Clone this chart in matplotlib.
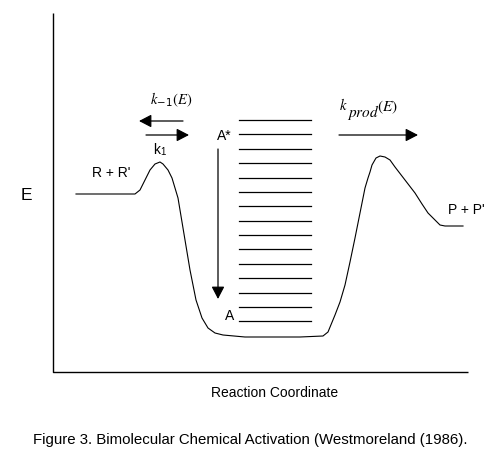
import matplotlib
matplotlib.use("Agg")
import matplotlib.pyplot as plt
from matplotlib.patches import FancyArrowPatch

# ---- data (pixel-space coordinates of the schematic) ----
curve_x = [76, 135, 140, 145, 150, 155, 160, 163, 168, 172, 178, 185, 190, 196, 202, 208, 215, 223,
           245, 300, 323, 328, 335, 340, 345, 350, 355, 360, 365, 368, 370, 372, 376, 380, 385, 390,
           395, 405, 415, 422, 428, 435, 440, 445, 463]
curve_y = [194, 194, 190, 180, 170, 164, 162, 164, 170, 178, 198, 240, 270, 300, 318, 328, 333, 335,
           337, 337, 336, 332, 315, 302, 285, 262, 238, 213, 188, 178, 172, 165, 158, 156, 157, 160,
           167, 180, 193, 204, 213, 220, 225, 226, 226]
level_y = [120, 134, 149, 163, 178, 192, 206, 221, 235, 249, 264, 278, 293, 307, 321]
level_x = [239, 311]
axis_x = [53, 53, 468]
axis_y = [13, 372, 372]

labels = ["R + R'", "P + P'", "A*", "A", "E",
          "Reaction Coordinate",
          "Figure 3. Bimolecular Chemical Activation (Westmoreland (1986)."]

W, H = 497, 463
fig = plt.figure(figsize=(W / 100, H / 100), dpi=100)
ax = fig.add_axes([0, 0, 1, 1])
ax.set_xlim(0, W)
ax.set_ylim(H, 0)
ax.axis("off")

plt.rcParams["mathtext.fontset"] = "stix"
sans = "Liberation Sans"

# axes
ax.plot(axis_x, axis_y, color="black", lw=1.0, solid_capstyle="butt")

# energy curve
ax.plot(curve_x, curve_y, color="black", lw=0.8)

# vibrational levels
for y in level_y:
    ax.plot(level_x, [y, y], color="black", lw=0.9)

def arrow(x0, y0, x1, y1):
    ax.add_patch(FancyArrowPatch((x0, y0), (x1, y1), arrowstyle="-|>,head_length=5,head_width=2.6",
                                 mutation_scale=1.5, color="black", lw=0.9, shrinkA=0, shrinkB=0))

arrow(183, 121, 139, 121)   # k-1
arrow(146, 135, 189, 135)   # k1
arrow(339, 135, 418, 135)   # kprod
arrow(218, 149, 218, 299)   # A* -> A

fs = 10
ax.text(111, 173, labels[0], fontsize=fs, family=sans, ha="center", va="center")
ax.text(466, 210, labels[1], fontsize=fs, family=sans, ha="center", va="center")
ax.text(224, 136, labels[2], fontsize=fs, family=sans, ha="center", va="center")
ax.text(230, 316, labels[3], fontsize=fs, family=sans, ha="center", va="center")
ax.text(160, 150, "k$_\\mathregular{1}$", fontsize=fs, family=sans, ha="center", va="center")
ax.text(171, 100, r"$k_{\mathregular{-1}}(E)$", fontsize=10.5, ha="center", va="center")
# k_prod(E) built from pieces, as drawn in the reference
ax.text(339, 105, r"$k$", fontsize=10.5, ha="left", va="center")
ax.text(347, 112, r"$prod$", fontsize=11, ha="left", va="center")
ax.text(377, 107, r"$(E)$", fontsize=11, ha="left", va="center")
ax.text(26.5, 195, labels[4], fontsize=12.5, family=sans, ha="center", va="center")
ax.text(275, 393, labels[5], fontsize=10, family=sans, ha="center", va="center")
ax.text(33, 440, labels[6], fontsize=10.8, family=sans, ha="left", va="center")

fig.savefig("out.png", dpi=100)
